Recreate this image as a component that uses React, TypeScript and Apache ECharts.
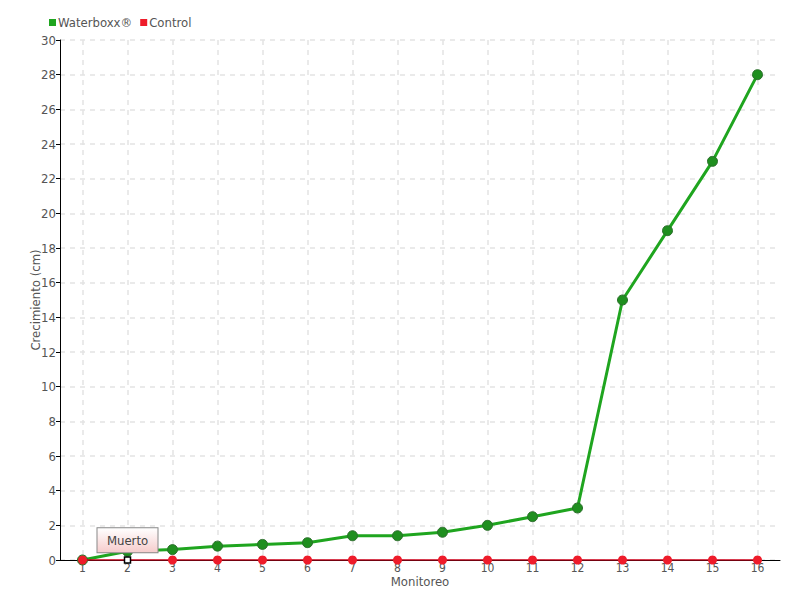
import React, { useEffect, useRef } from "react";
import * as echarts from "echarts";

const categories = ["1","2","3","4","5","6","7","8","9","10","11","12","13","14","15","16"];
const waterboxx = [0, 0.5, 0.6, 0.8, 0.9, 1.0, 1.4, 1.4, 1.6, 2.0, 2.5, 3.0, 15, 19, 23, 28];
const control = [0, 0, 0, 0, 0, 0, 0, 0, 0, 0, 0, 0, 0, 0, 0, 0];
const deadIndex = 1;
const deadLabel = "Muerto";

const FONT = "DejaVu Sans Condensed";

export default function App() {
  const ref = useRef<HTMLDivElement>(null);
  useEffect(() => {
    if (!ref.current) return;
    const chart = echarts.init(ref.current, null, { renderer: "svg" });
    const controlData = control.map((v, i) =>
      i === deadIndex
        ? {
            value: v,
            symbol: "rect",
            symbolSize: 6,
            itemStyle: { color: "#ffffff", borderColor: "#000000", borderWidth: 1.5 },
            label: {
              show: true,
              position: "top",
              distance: 4,
              formatter: deadLabel,
              fontFamily: FONT,
              fontSize: 13,
              color: "#444444",
              padding: [6, 8, 5, 8],
              width: 44,
              align: "center",
              borderColor: "#888888",
              borderWidth: 1,
              backgroundColor: {
                type: "linear", x: 0, y: 0, x2: 0, y2: 1,
                colorStops: [
                  { offset: 0, color: "#ffffff" },
                  { offset: 1, color: "#f6cccc" },
                ],
              },
            },
          }
        : v
    );
    chart.setOption({
      animation: false,
      textStyle: { fontFamily: FONT },
      legend: {
        left: 44,
        top: 11,
        itemWidth: 7,
        itemHeight: 7,
        itemGap: 8,
        icon: "rect",
        textStyle: { fontFamily: FONT, fontSize: 13, color: "#555555", padding: [0, 0, 0, -3] },
        data: [
          { name: "Waterboxx®", itemStyle: { color: "#1fa51f", borderWidth: 0 } },
          { name: "Control", itemStyle: { color: "#ee1c2a", borderWidth: 0 } },
        ],
      },
      grid: { left: 60, right: 20, top: 40, bottom: 40 },
      xAxis: {
        type: "category",
        data: categories,
        boundaryGap: true,
        name: "Monitoreo",
        nameLocation: "middle",
        nameGap: 15,
        nameMoveOverlap: false,
        nameTextStyle: { fontFamily: FONT, fontSize: 13, lineHeight: 13, color: "#555555" },
        axisLine: { lineStyle: { color: "#000000", width: 1 } },
        axisTick: { show: false, alignWithLabel: true },
        axisLabel: { fontFamily: FONT, fontSize: 12, lineHeight: 12, color: "#555555", margin: 2 },
        splitLine: {
          show: true,
          alignWithLabel: true,
          lineStyle: { color: "#e4e4e4", type: [5, 5], width: 1.5 },
        },
      },
      yAxis: {
        type: "value",
        min: 0,
        max: 30,
        interval: 2,
        name: "Crecimiento (cm)",
        nameLocation: "middle",
        nameGap: 18,
        nameMoveOverlap: false,
        nameTextStyle: { fontFamily: FONT, fontSize: 13, color: "#555555" },
        axisLine: { show: true, lineStyle: { color: "#000000", width: 1 } },
        axisTick: { show: true, length: 4, lineStyle: { color: "#000000" } },
        axisLabel: { fontFamily: FONT, fontSize: 13, color: "#555555", margin: 4 },
        splitLine: { show: true, lineStyle: { color: "#e4e4e4", type: [5, 5], width: 1.5 } },
      },
      series: [
        {
          name: "Waterboxx®",
          type: "line",
          data: waterboxx,
          symbol: "circle",
          symbolSize: 10,
          lineStyle: { color: "#1fa51f", width: 3 },
          itemStyle: { color: "#1f8f1f", borderColor: "#2b6e2b", borderWidth: 1 },
          z: 2,
        },
        {
          name: "Control",
          type: "line",
          data: controlData,
          symbol: "circle",
          symbolSize: 9,
          lineStyle: { color: "#d0021b", width: 1.5 },
          itemStyle: { color: "#ee1c2a", borderWidth: 0 },
          z: 3,
        },
      ],
    });
    return () => chart.dispose();
  }, []);
  return (
    <div
      ref={ref}
      style={{ position: "fixed", left: 0, top: 0, width: 800, height: 600, background: "#ffffff" }}
    />
  );
}
